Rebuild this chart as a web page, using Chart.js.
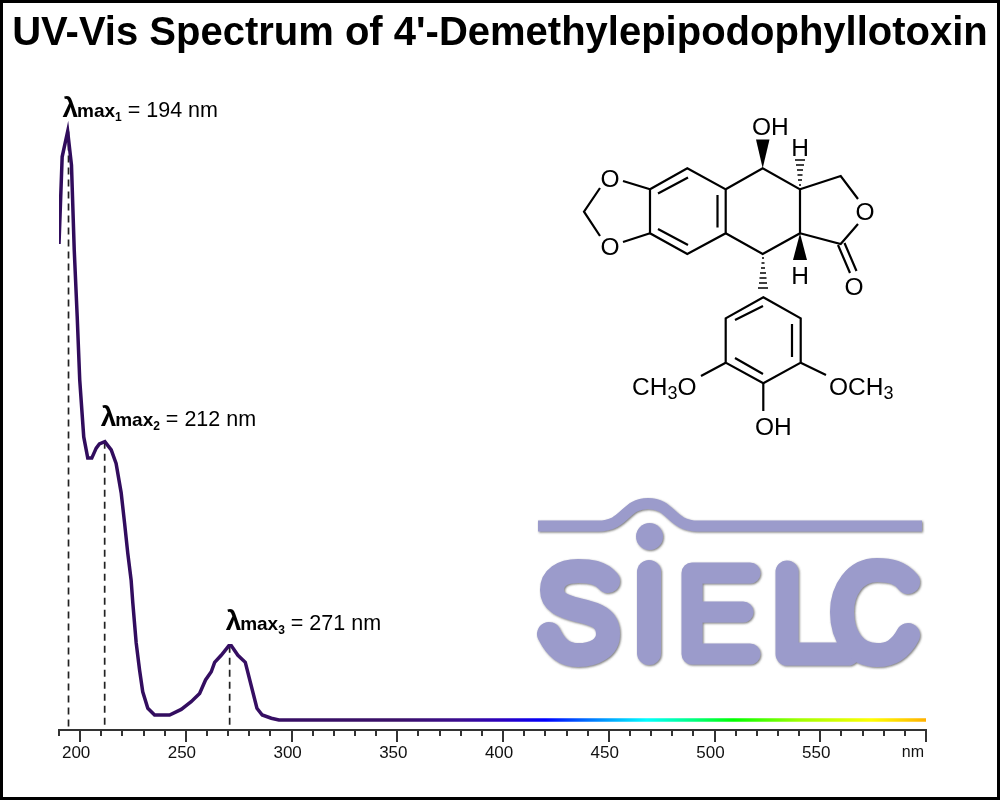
<!DOCTYPE html>
<html>
<head>
<meta charset="utf-8">
<title>UV-Vis Spectrum of 4'-Demethylepipodophyllotoxin</title>
<script src="https://cdn.jsdelivr.net/npm/chart.js@4"></script>
<style>
    html, body { margin: 0; padding: 0; background: #fff; }
    #page { position: relative; width: 1000px; height: 800px; overflow: hidden; }
    #spectrum { position: absolute; left: 0; top: 0; }
    #frame { position: absolute; left: 0; top: 0; width: 1000px; height: 800px; box-sizing: border-box; border: 3px solid #000; }
    #art { position: absolute; left: 0; top: 0; }
    #art text { font-family: "Liberation Sans", Arial, sans-serif; font-size: 24.5px; fill: #000; }
    #art .sub { font-size: 18px; }
</style>
</head>
<body>
<div id="page">
    <canvas id="spectrum" width="1000" height="800"></canvas>
    <svg id="art" width="1000" height="800" viewBox="0 0 1000 800">
        <defs>
            <filter id="logoShadow" filterUnits="userSpaceOnUse" x="500" y="480" width="460" height="210">
                <feDropShadow dx="1" dy="1" stdDeviation="0.8" flood-color="#555" flood-opacity="0.8"/>
            </filter>
        </defs>
        <!-- SIELC logo -->
        <g filter="url(#logoShadow)" fill="none" stroke="#9b9bcb" stroke-linecap="round" stroke-linejoin="round">
            <path stroke-width="11" stroke-linecap="butt" d="M538,526 H598 C626,526 624,503.5 648,503.5 C672,503.5 670,526 698,526 H922"/>
            <circle cx="649.5" cy="536.5" r="13.5" fill="#9b9bcb" stroke="none"/>
            <path stroke-width="24" d="M608,581 C600,572 590,571 578,571 C562,571 552,578 552,590 C552,602 562,606 578,610 C596,614 608,618 608,634 C608,648 594,655 578,655 C564,655 556,648 549,634"/>
            <path stroke-width="24" d="M649,572 V653"/>
            <path stroke-width="21" d="M750,573 H692 V654 H750 M692,612 H743"/>
            <path stroke-width="23" d="M787,572 V654 H848"/>
            <path stroke-width="24" d="M908,582 C900,572 890,570 877,570 C855,570 842,590 842,612 C842,636 855,655 877,655 C890,655 900,650 908,635"/>
        </g>
        <!-- molecule -->
        <g fill="none" stroke="#000" stroke-width="2.2">
            <path d="M650,189.3 L687.3,168.3 L725.7,189.3 L725.7,233.3 L687.3,254 L650,233.3 Z"/>
            <path d="M658,193.5 L688,177.5 M717.5,195 L717.5,227.5 M658,229 L688,245"/>
            <path d="M725.7,189.3 L762.7,168.3 L800,189.3 L800,233.3 L762.7,254 L725.7,233.3"/>
            <path d="M800,189.3 L840.7,176 L858,199 M858,224 L840.7,244 L800,233.3"/>
            <path d="M838,245 L850,273 M844.5,243 L856.5,271"/>
            <path d="M650,189.3 L623,181 M650,233.3 L623,242 M600,188 L584,211.7 L600,236"/>
            <path d="M763.3,297.3 L800.7,318.3 L800.7,362.7 L763.3,383.3 L725.7,362.7 L725.7,318.3 Z"/>
            <path d="M735,320 L763,306 M792,324 L792,357 M735,358 L763,374"/>
            <path d="M725.7,362.7 L701,376 M800.7,362.7 L826,375 M763.3,383.3 L763.3,411"/>
        </g>
        <g fill="#000" stroke="none">
            <path d="M762.7,168.3 L756,139.5 L769.5,139.5 Z"/>
            <path d="M800,233.3 L793,260 L807,260 Z"/>
        </g>
        <g fill="none" stroke="#000" stroke-width="1.5">
            <path d="M799,185 h2 M798,180 h4 M797.5,175 h5 M797,170 h6 M796,165 h8 M795,160 h10"/>
            <path d="M762,258 h2 M761.5,263 h3 M761,268 h4 M760,273 h6 M759.5,278 h7 M759,283 h8 M758,288 h10"/>
        </g>
        <text x="610" y="187" text-anchor="middle">O</text>
        <text x="610" y="255" text-anchor="middle">O</text>
        <text x="865" y="220" text-anchor="middle">O</text>
        <text x="854" y="295" text-anchor="middle">O</text>
        <text x="752" y="135">OH</text>
        <text x="800" y="156" text-anchor="middle">H</text>
        <text x="800" y="284" text-anchor="middle">H</text>
        <text x="755" y="435">OH</text>
        <text x="632" y="395">CH<tspan class="sub" dy="4">3</tspan><tspan dy="-4">O</tspan></text>
        <text x="829" y="395">OCH<tspan class="sub" dy="4">3</tspan></text>
    </svg>
    <div id="frame"></div>
</div>

<script>
const chartTitle = "UV-Vis Spectrum of 4'-Demethylepipodophyllotoxin";

const wavelengths = [190, 191.5, 194.1, 195.9, 197.2, 198.6, 199.8, 201.7, 203.6, 205.5, 207.6, 209.1, 211.7, 213.4, 214.7, 217, 219.4, 221, 222.5, 224.1, 224.9, 226.5, 228.1, 229.6, 232, 235.2, 242.3, 247.8, 252.5, 256.5, 259.3, 262, 263.6, 266.7, 270.3, 271.5, 274.6, 278.1, 283.6, 286.1, 290.4, 294, 300, 400, 500, 600];
const absorbance = [0.809, 0.957, 1.000, 0.943, 0.799, 0.686, 0.578, 0.481, 0.445, 0.445, 0.462, 0.469, 0.473, 0.465, 0.459, 0.436, 0.386, 0.335, 0.284, 0.238, 0.199, 0.131, 0.085, 0.048, 0.020, 0.0085, 0.0085, 0.018, 0.031, 0.045, 0.068, 0.082, 0.098, 0.110, 0.126, 0.126, 0.110, 0.098, 0.020, 0.0085, 0.003, 0, 0, 0, 0, 0];

const peakPositions = [194.5, 211.6, 270.7];
const peakHeights = [1.0, 0.473, 0.126];
const peakNames = ['194', '212', '271'];

const gradientWavelengths = [190, 350, 380, 400, 420, 440, 468, 490, 509, 540, 574, 590, 600];
const gradientColors = ['#300c5c', '#3a1068', '#3a0c90', '#2a00c0', '#0000ff', '#0070ff', '#00ffff', '#00ff80', '#00ff00', '#a0ff00', '#ffff00', '#ffd000', '#ffb000'];

const spectrumColor = function(context) {
    const chart = context.chart;
    if (!chart.chartArea) return gradientColors[0];
    const x = chart.scales.x;
    const left = x.getPixelForValue(190);
    const right = x.getPixelForValue(600);
    const gradient = chart.ctx.createLinearGradient(left, 0, right, 0);
    gradientWavelengths.forEach((nm, i) => {
        gradient.addColorStop((nm - 190) / 410, gradientColors[i]);
    });
    return gradient;
};

const data = wavelengths.map((nm, i) => ({ x: nm, y: absorbance[i] }));

const datasets = [{
    data: data,
    borderColor: spectrumColor,
    borderWidth: 3.5,
    pointRadius: 0,
    tension: 0,
    order: 1
}];

// dashed drop lines under the three maxima
peakPositions.forEach((nm, i) => {
    datasets.push({
        data: [{ x: nm, y: peakHeights[i] }, { x: nm, y: -0.012 }],
        borderColor: '#222',
        borderWidth: 1.7,
        borderDash: [7, 5],
        pointRadius: 0,
        order: 2
    });
});

// title (wider than the plot area), tick marks of two lengths, the nm unit and the lambda max labels
const spectrumDecor = {
    id: 'spectrumDecor',
    afterDraw(chart) {
        const ctx = chart.ctx;
        const x = chart.scales.x;
        const y = chart.scales.y;
        const axisY = chart.chartArea.bottom;

        ctx.save();
        ctx.fillStyle = '#000';
        ctx.font = 'bold 40px "Liberation Sans", Arial, sans-serif';
        ctx.textAlign = 'center';
        ctx.textBaseline = 'alphabetic';
        ctx.fillText(chartTitle, 500, 45);

        ctx.strokeStyle = '#333';
        ctx.lineWidth = 2;
        x.ticks.forEach(tick => {
            const px = Math.round(x.getPixelForValue(tick.value));
            ctx.beginPath();
            ctx.moveTo(px, axisY);
            ctx.lineTo(px, axisY + (tick.value % 50 === 0 ? 12 : 6));
            ctx.stroke();
        });

        ctx.fillStyle = '#111';
        ctx.font = '16px "Liberation Sans", Arial, sans-serif';
        ctx.textAlign = 'right';
        ctx.fillText('nm', 924, 757);

        const offsets = [-6, -4, -4];
        const lifts = [14, 16, 16];
        ctx.textAlign = 'left';
        ctx.fillStyle = '#000';
        peakPositions.forEach((nm, i) => {
            let px = x.getPixelForValue(nm) + offsets[i];
            const py = y.getPixelForValue(peakHeights[i]) - lifts[i];
            ctx.font = 'bold 28px "Liberation Sans", Arial, sans-serif';
            ctx.fillText('λ', px, py);
            px += 14.5;
            const pieces = [
                ['max', 'bold 19px "Liberation Sans", Arial, sans-serif', 0],
                [String(i + 1), 'bold 12px "Liberation Sans", Arial, sans-serif', 4],
                [' = ' + peakNames[i] + ' nm', '21.5px "Liberation Sans", Arial, sans-serif', 0]
            ];
            pieces.forEach(piece => {
                ctx.font = piece[1];
                ctx.fillText(piece[0], px, py + piece[2]);
                px += ctx.measureText(piece[0]).width;
            });
        });
        ctx.restore();
    }
};

new Chart(document.getElementById('spectrum').getContext('2d'), {
    type: 'line',
    data: { datasets: datasets },
    plugins: [spectrumDecor],
    options: {
        responsive: false,
        animation: false,
        layout: { padding: { left: 59, right: 74, top: 73, bottom: 0 } },
        plugins: {
            legend: { display: false },
            tooltip: { enabled: false }
        },
        scales: {
            x: {
                type: 'linear',
                min: 190,
                max: 600,
                afterFit(scale) { scale.height = 70; },
                grid: { display: false, drawTicks: false },
                border: { display: true, color: '#333', width: 2 },
                ticks: {
                    stepSize: 10,
                    autoSkip: false,
                    maxRotation: 0,
                    padding: 13,
                    labelOffset: -4,
                    color: '#111',
                    font: { family: '"Liberation Sans", Arial, sans-serif', size: 17 },
                    callback: value => (value % 50 === 0 && value < 600 ? String(value) : '')
                }
            },
            y: { display: false, min: -0.017, max: 1.0994 }
        }
    }
});
</script>
</body>
</html>
